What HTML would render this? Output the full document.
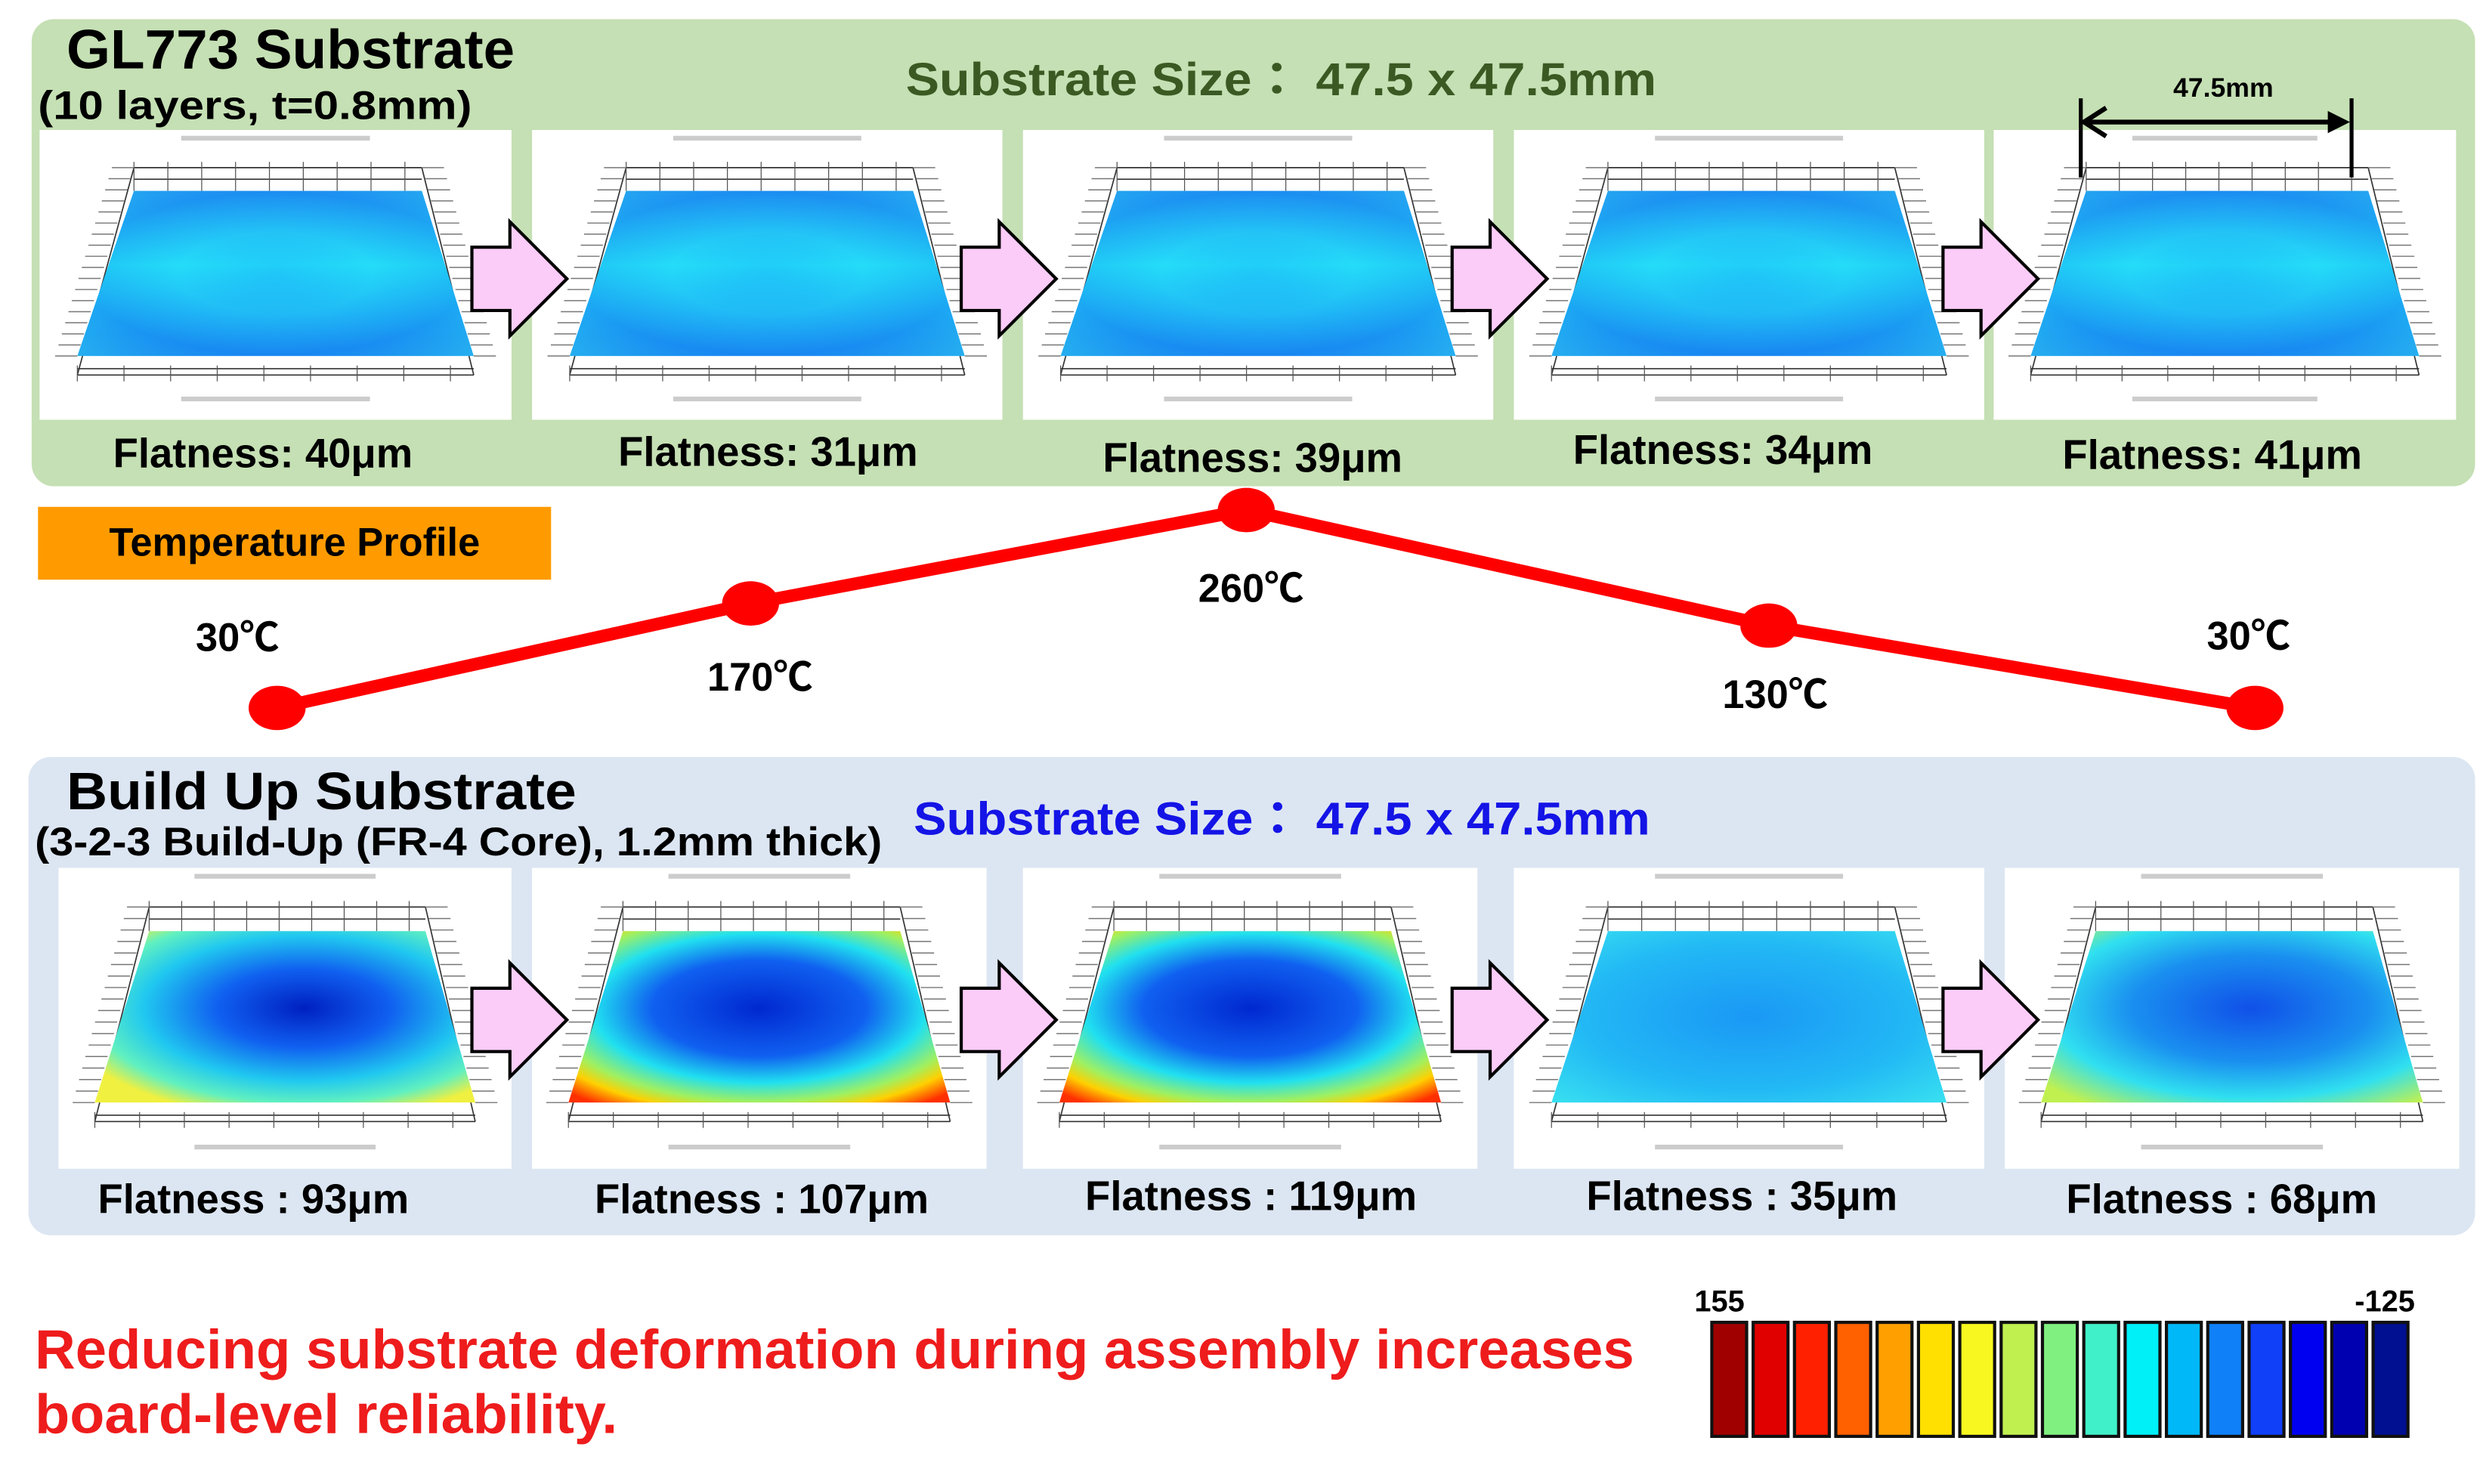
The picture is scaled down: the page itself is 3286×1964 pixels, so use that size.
<!DOCTYPE html>
<html><head><meta charset="utf-8"><style>
html,body{margin:0;padding:0;background:#fff;}
svg{display:block;}
text{font-family:"Liberation Sans","Noto Sans CJK JP",sans-serif;font-weight:bold;}
</style></head><body>
<svg id="s" width="3286" height="1964" viewBox="0 0 1568 937" xmlns="http://www.w3.org/2000/svg">
<defs>
<radialGradient id="gt" cx="0.5" cy="0.5" r="0.7"><stop offset="0" stop-color="#20a8f8"/><stop offset="0.35" stop-color="#28c8f8"/><stop offset="0.7" stop-color="#1e98f2"/><stop offset="1" stop-color="#38e0f0"/></radialGradient>
<linearGradient id="gtv" x1="0" y1="0" x2="0" y2="1"><stop offset="0" stop-color="#1a7ff0" stop-opacity="0.45"/><stop offset="0.45" stop-color="#20f0f8" stop-opacity="0.5"/><stop offset="1" stop-color="#1070f0" stop-opacity="0.45"/></linearGradient>
<radialGradient id="gb1" cx="0.55" cy="0.45" r="0.65"><stop offset="0" stop-color="#0020c0"/><stop offset="0.35" stop-color="#1060f0"/><stop offset="0.65" stop-color="#20c8f0"/><stop offset="0.85" stop-color="#60f0c0"/><stop offset="1" stop-color="#f0f040"/></radialGradient>
<radialGradient id="gb2" cx="0.5" cy="0.45" r="0.7"><stop offset="0" stop-color="#0028d0"/><stop offset="0.4" stop-color="#1060f0"/><stop offset="0.62" stop-color="#20e0f0"/><stop offset="0.78" stop-color="#a0f060"/><stop offset="0.88" stop-color="#ffd000"/><stop offset="1" stop-color="#ff3000"/></radialGradient>
<radialGradient id="gb4" cx="0.5" cy="0.5" r="0.7"><stop offset="0" stop-color="#1a98f5"/><stop offset="0.6" stop-color="#22b8f5"/><stop offset="1" stop-color="#38e0f0"/></radialGradient>
<radialGradient id="gb5" cx="0.55" cy="0.45" r="0.7"><stop offset="0" stop-color="#1050e8"/><stop offset="0.45" stop-color="#1a90f0"/><stop offset="0.75" stop-color="#30e0f0"/><stop offset="1" stop-color="#c0f050"/></radialGradient>
</defs>
<rect x="20" y="12" width="1543" height="295" rx="14" fill="#c5e0b4"/>
<rect x="18" y="478" width="1545" height="302" rx="14" fill="#dce6f2"/>
<g id="imgs"></g>
<g id="arrows"></g>
<text x="42" y="43" font-size="35" fill="#000" textLength="283" lengthAdjust="spacingAndGlyphs">GL773 Substrate</text>
<text x="24" y="75" font-size="25" fill="#000" textLength="274" lengthAdjust="spacingAndGlyphs">(10 layers, t=0.8mm)</text>
<text x="572" y="60" font-size="29" fill="#3b5a23" textLength="474" lengthAdjust="spacingAndGlyphs">Substrate Size：  47.5 x 47.5mm</text>
<g font-size="26" fill="#000" text-anchor="middle">
<text x="166" y="295">Flatness: 40μm</text><text x="485" y="294">Flatness: 31μm</text><text x="791" y="298">Flatness: 39μm</text><text x="1088" y="293">Flatness: 34μm</text><text x="1397" y="296">Flatness: 41μm</text></g>
<text x="1404" y="61" font-size="17" text-anchor="middle" fill="#000">47.5mm</text>
<line x1="1314" y1="62" x2="1314" y2="112" stroke="#000" stroke-width="2.5"/>
<line x1="1485" y1="62" x2="1485" y2="112" stroke="#000" stroke-width="2.5"/>
<line x1="1316" y1="77" x2="1475" y2="77" stroke="#000" stroke-width="3"/>
<polyline points="1330,68 1316,77 1330,86" fill="none" stroke="#000" stroke-width="3"/>
<polygon points="1470,70 1484,77 1470,84" fill="#000"/>
<rect x="24" y="320" width="324" height="46" fill="#ff9b00"/>
<text x="186" y="351" font-size="25" fill="#000" text-anchor="middle">Temperature Profile</text>
<polyline points="175,447 474,381 787,322 1117,395 1424,447" fill="none" stroke="#f00" stroke-width="8"/>
<g fill="#f00"><ellipse cx="175" cy="447" rx="18" ry="14"/><ellipse cx="474" cy="381" rx="18" ry="14"/><ellipse cx="787" cy="322" rx="18" ry="14"/><ellipse cx="1117" cy="395" rx="18" ry="14"/><ellipse cx="1424" cy="447" rx="18" ry="14"/></g>
<g font-size="25" fill="#000" text-anchor="middle">
<text x="150" y="411">30℃</text><text x="480" y="436">170℃</text><text x="790" y="380">260℃</text><text x="1121" y="447">130℃</text><text x="1420" y="410">30℃</text></g>
<text x="42" y="511" font-size="33" fill="#000" textLength="322" lengthAdjust="spacingAndGlyphs">Build Up Substrate</text>
<text x="22" y="540" font-size="25" fill="#000" textLength="535" lengthAdjust="spacingAndGlyphs">(3-2-3 Build-Up (FR-4 Core), 1.2mm thick)</text>
<text x="577" y="527" font-size="29" fill="#1414e6" textLength="465" lengthAdjust="spacingAndGlyphs">Substrate Size：  47.5 x 47.5mm</text>
<g font-size="26" fill="#000" text-anchor="middle">
<text x="160" y="766">Flatness : 93μm</text><text x="481" y="766">Flatness : 107μm</text><text x="790" y="764">Flatness : 119μm</text><text x="1100" y="764">Flatness : 35μm</text><text x="1403" y="766">Flatness : 68μm</text></g>
<text x="22" y="864" font-size="35" fill="#ee1c1c" textLength="1010" lengthAdjust="spacingAndGlyphs">Reducing substrate deformation during assembly increases</text>
<text x="22" y="905" font-size="35" fill="#ee1c1c" textLength="368" lengthAdjust="spacingAndGlyphs">board-level reliability.</text>
<text x="1070" y="828" font-size="19" fill="#000">155</text>
<text x="1487" y="828" font-size="19" fill="#000">-125</text>
<g id="cbar"></g>
</svg>
<script>
var NS="http://www.w3.org/2000/svg";
function el(p,t,a){var e=document.createElementNS(NS,t);for(var k in a)e.setAttribute(k,a[k]);p.appendChild(e);return e;}
var g=document.getElementById('imgs');
var imgs=[[25,82,298,183,'gt'],[336,82,297,183,'gt'],[646,82,297,183,'gt'],[956,82,297,183,'gt'],[1259,82,292,183,'gt'],
[37,548,286,190,'gb1'],[336,548,287,190,'gb2'],[646,548,287,190,'gb2'],[956,548,297,190,'gb4'],[1266,548,287,190,'gb5']];
imgs.forEach(function(d,i){
 var x=d[0],y=d[1],w=d[2],h=d[3];
 el(g,'rect',{x:x,y:y,width:w,height:h,fill:'#fff'});
 var tx1=x+0.20*w,tx2=x+0.81*w,ty=y+0.21*h,bx1=x+0.08*w,bx2=x+0.92*w,by=y+0.78*h;
 el(g,'line',{x1:tx1,y1:y+0.13*h,x2:tx2,y2:y+0.13*h,stroke:'#333','stroke-width':0.8});
 el(g,'line',{x1:tx1,y1:y+0.17*h,x2:tx2,y2:y+0.17*h,stroke:'#333','stroke-width':0.8});
 el(g,'line',{x1:bx1,y1:by+8,x2:bx2,y2:by+8,stroke:'#333','stroke-width':0.8});
 el(g,'line',{x1:bx1,y1:by+12,x2:bx2,y2:by+12,stroke:'#333','stroke-width':0.8});
 el(g,'line',{x1:tx1,y1:y+0.13*h,x2:bx1,y2:by+12,stroke:'#333','stroke-width':0.8});
 el(g,'line',{x1:tx2,y1:y+0.13*h,x2:bx2,y2:by+12,stroke:'#333','stroke-width':0.8});
 for(var k=0;k<=8;k++){var f=k/8.5;
  el(g,'line',{x1:tx1+f*(tx2-tx1),y1:y+0.11*h,x2:tx1+f*(tx2-tx1),y2:ty,stroke:'#555','stroke-width':0.6});
  el(g,'line',{x1:bx1+f*(bx2-bx1),y1:by+6,x2:bx1+f*(bx2-bx1),y2:by+16,stroke:'#555','stroke-width':0.6});}
 for(var k=0;k<18;k++){var f=k/17;var yy=y+0.13*h+f*(by-y-0.13*h);
  var lx=tx1+(bx1-tx1)*f, rx=tx2+(bx2-tx2)*f;
  el(g,'line',{x1:lx-14,y1:yy,x2:lx,y2:yy,stroke:'#777','stroke-width':0.7});
  el(g,'line',{x1:rx,y1:yy,x2:rx+14,y2:yy,stroke:'#777','stroke-width':0.7});}
 var pts=tx1+','+ty+' '+tx2+','+ty+' '+bx2+','+by+' '+bx1+','+by;
 el(g,'polygon',{points:pts,fill:'url(#'+d[4]+')'});
 if(d[4]=='gt')el(g,'polygon',{points:pts,fill:'url(#gtv)'});
 el(g,'rect',{x:x+0.3*w,y:y+0.02*h,width:0.4*w,height:3,fill:'#ccc'});
 el(g,'rect',{x:x+0.3*w,y:y+0.92*h,width:0.4*w,height:3,fill:'#ccc'});
});
var a=document.getElementById('arrows');
[[298,140],[607,140],[917,140],[1227,140],[298,608],[607,608],[917,608],[1227,608]].forEach(function(p){
 var x=p[0],y=p[1];
 el(a,'polygon',{points:(x)+','+(y+16)+' '+(x+24)+','+(y+16)+' '+(x+24)+','+y+' '+(x+60)+','+(y+36)+' '+(x+24)+','+(y+72)+' '+(x+24)+','+(y+56)+' '+x+','+(y+56),fill:'#fbccf7',stroke:'#000','stroke-width':2});
});
var cols=['#a00000','#e00000','#ff2000','#ff6000','#ffa000','#ffe000','#f8f820','#c0f050','#80f080','#40f0c8','#00f0f8','#00b8f8','#1080f8','#1040f8','#0000f0','#0000b0','#001090'];
var cb=document.getElementById('cbar');
cols.forEach(function(c,i){el(cb,'rect',{x:1081+i*26.1,y:835,width:22,height:72,fill:c,stroke:'#111','stroke-width':2});});
</script>
</body></html>
